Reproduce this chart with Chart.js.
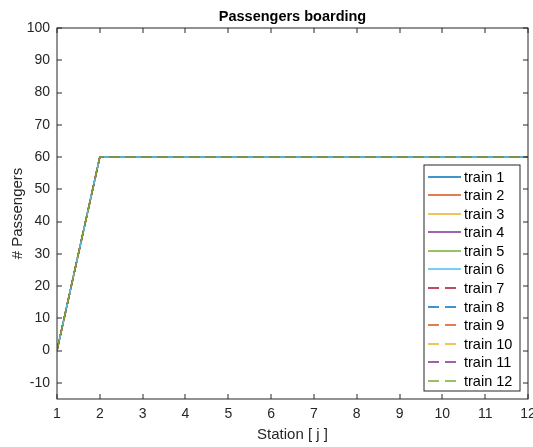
<!DOCTYPE html>
<html>
<head>
<meta charset="utf-8">
<script src="https://cdn.jsdelivr.net/npm/chart.js@4/dist/chart.umd.min.js"></script>
<style>
html,body{margin:0;padding:0;background:#fff;}
#wrap{width:533px;height:447px;position:relative;}
</style>
</head>
<body>
<div id="wrap"><canvas id="c" width="533" height="447"></canvas></div>
<script>
// ---- data ----
const stations = [1,2,3,4,5,6,7,8,9,10,11,12];
const train1  = [0,60,60,60,60,60,60,60,60,60,60,60];
const train2  = [0,60,60,60,60,60,60,60,60,60,60,60];
const train3  = [0,60,60,60,60,60,60,60,60,60,60,60];
const train4  = [0,60,60,60,60,60,60,60,60,60,60,60];
const train5  = [0,60,60,60,60,60,60,60,60,60,60,60];
const train6  = [0,60,60,60,60,60,60,60,60,60,60,60];
const train7  = [0,60,60,60,60,60,60,60,60,60,60,60];
const train8  = [0,60,60,60,60,60,60,60,60,60,60,60];
const train9  = [0,60,60,60,60,60,60,60,60,60,60,60];
const train10 = [0,60,60,60,60,60,60,60,60,60,60,60];
const train11 = [0,60,60,60,60,60,60,60,60,60,60,60];
const train12 = [0,60,60,60,60,60,60,60,60,60,60,60];
const seriesLabels = ['train 1','train 2','train 3','train 4','train 5','train 6','train 7','train 8','train 9','train 10','train 11','train 12'];
const seriesValues = [train1,train2,train3,train4,train5,train6,train7,train8,train9,train10,train11,train12];
const xTickValues = [1,2,3,4,5,6,7,8,9,10,11,12];
const yTickValues = [-10,0,10,20,30,40,50,60,70,80,90,100];

// ---- styles ----
const colors = ['#0072BD','#D95319','#EDB120','#7E2F8E','#77AC30','#4DBEEE','#A2142F','#0072BD','#D95319','#EDB120','#7E2F8E','#77AC30'];
const dashed = [false,false,false,false,false,false,true,true,true,true,true,true];
const DASH = [10,6];
const AX = '#262626';
const FONT = "'Liberation Sans', Arial, sans-serif";
const LW = 1.4;

const datasets = seriesValues.map((vals, i) => ({
  label: seriesLabels[i],
  data: vals.map((v, k) => ({x: stations[k], y: v})),
  borderColor: colors[i],
  backgroundColor: colors[i],
  borderWidth: LW,
  borderDash: dashed[i] ? DASH : [],
  pointRadius: 0,
  tension: 0,
  fill: false,
  order: seriesValues.length - i
}));

const boxPlugin = {
  id: 'matlabBox',
  afterDraw(chart) {
    const {ctx, chartArea: a, scales: {x, y}} = chart;
    ctx.save();
    ctx.strokeStyle = AX;
    ctx.lineWidth = 1;
    ctx.setLineDash([]);
    const L = Math.round(a.left), R = Math.round(a.right);
    const T = Math.round(a.top), B = Math.round(a.bottom);
    ctx.strokeRect(L, T, R - L, B - T);
    const tl = 5;
    ctx.beginPath();
    x.ticks.forEach(t => {
      const px = Math.round(x.getPixelForValue(t.value));
      ctx.moveTo(px, B); ctx.lineTo(px, B - tl);
      ctx.moveTo(px, T); ctx.lineTo(px, T + tl);
    });
    y.ticks.forEach(t => {
      const py = Math.round(y.getPixelForValue(t.value));
      ctx.moveTo(L, py); ctx.lineTo(L + tl, py);
      ctx.moveTo(R, py); ctx.lineTo(R - tl, py);
    });
    ctx.stroke();

    // legend (inside, south-east)
    const lx = 424, ly = 165, lw = 96, lh = 226;
    ctx.fillStyle = '#fff';
    ctx.fillRect(lx, ly, lw, lh);
    ctx.strokeStyle = AX;
    ctx.strokeRect(lx, ly, lw, lh);
    const step = 18.55, y0 = 176.7;
    ctx.font = '14.5px ' + FONT;
    ctx.textBaseline = 'middle';
    ctx.textAlign = 'left';
    chart.data.datasets.forEach((ds, i) => {
      const yy = Math.round(y0 + i * step);
      ctx.strokeStyle = ds.borderColor;
      ctx.lineWidth = 1.5;
      ctx.setLineDash(ds.borderDash && ds.borderDash.length ? [11, 6] : []);
      ctx.beginPath();
      ctx.moveTo(428, yy); ctx.lineTo(461, yy);
      ctx.stroke();
      ctx.setLineDash([]);
      ctx.fillStyle = '#000';
      ctx.fillText(ds.label, 464, yy + 0.5);
    });
    ctx.restore();
  }
};

new Chart(document.getElementById('c'), {
  type: 'line',
  data: { datasets },
  plugins: [boxPlugin],
  options: {
    responsive: false,
    animation: false,
    layout: { padding: { top: 0, right: 5, left: 0, bottom: 0 } },
    plugins: {
      legend: { display: false },
      tooltip: { enabled: false },
      title: {
        display: true,
        fullSize: false,
        text: 'Passengers boarding',
        color: '#000',
        font: { family: FONT, size: 14.5, weight: 'bold', lineHeight: 1.2 },
        padding: { top: 7.8, bottom: 2.8 }
      }
    },
    scales: {
      x: {
        type: 'linear',
        min: 1, max: 12,
        afterBuildTicks: s => { s.ticks = xTickValues.map(v => ({value: v})); },
        afterFit: s => { s.height = 48; s.paddingLeft = 0; s.paddingRight = 0; },
        grid: { display: false, drawTicks: false },
        border: { display: false },
        ticks: { color: AX, font: { family: FONT, size: 14 }, padding: 7, maxRotation: 0, autoSkip: false },
        title: { display: true, text: 'Station [ j ]', color: AX, font: { family: FONT, size: 15, lineHeight: 1.2 }, padding: { top: 0, bottom: 3.3 } }
      },
      y: {
        type: 'linear',
        min: -15, max: 100,
        afterBuildTicks: s => { s.ticks = yTickValues.map(v => ({value: v})); },
        afterFit: s => { s.width = 57; s.paddingTop = 0; s.paddingBottom = 0; },
        grid: { display: false, drawTicks: false },
        border: { display: false },
        ticks: { color: AX, font: { family: FONT, size: 14 }, padding: 7, autoSkip: false },
        title: { display: true, text: '# Passengers', color: AX, font: { family: FONT, size: 15, lineHeight: 1.2 }, padding: { top: 8.4, bottom: 0 } }
      }
    }
  }
});
</script>
</body>
</html>
